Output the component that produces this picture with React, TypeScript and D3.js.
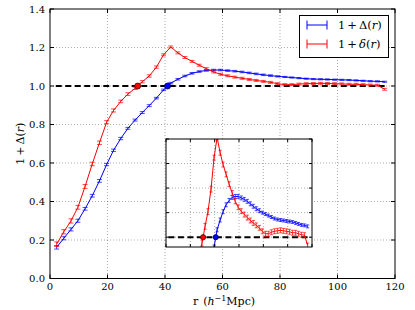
import React from "react";
import * as d3 from "d3";

const rValues = [2.3, 4.8, 7.3, 9.7, 12.2, 14.7, 17.2, 19.7, 22.1, 24.6, 27.1, 29.6, 32.1, 34.5, 37.0, 39.5, 42.0, 44.5, 46.9, 49.4, 51.9, 54.4, 56.9, 59.3, 61.8, 64.3, 66.8, 69.3, 71.7, 74.2, 76.7, 79.2, 81.7, 84.1, 86.6, 89.1, 91.6, 94.1, 96.5, 99.0, 101.5, 104.0, 106.5, 108.9, 111.4, 113.9, 116.4];

const bigDelta = [0.162, 0.209, 0.255, 0.300, 0.362, 0.430, 0.507, 0.592, 0.666, 0.727, 0.780, 0.823, 0.862, 0.898, 0.937, 0.980, 1.015, 1.035, 1.052, 1.066, 1.075, 1.081, 1.083, 1.083, 1.080, 1.077, 1.073, 1.068, 1.063, 1.058, 1.054, 1.050, 1.047, 1.044, 1.041, 1.038, 1.036, 1.035, 1.034, 1.033, 1.032, 1.031, 1.029, 1.027, 1.025, 1.024, 1.022];
const bigDeltaErr = [0.009, 0.008, 0.008, 0.008, 0.007, 0.007, 0.007, 0.006, 0.006, 0.006, 0.005, 0.005, 0.005, 0.005, 0.004, 0.004, 0.004, 0.004, 0.004, 0.004, 0.004, 0.004, 0.004, 0.004, 0.004, 0.004, 0.004, 0.004, 0.004, 0.004, 0.004, 0.003, 0.003, 0.003, 0.003, 0.003, 0.003, 0.003, 0.003, 0.003, 0.003, 0.003, 0.003, 0.003, 0.003, 0.003, 0.003];

const smallDelta = [0.178, 0.243, 0.299, 0.370, 0.478, 0.595, 0.705, 0.812, 0.873, 0.920, 0.958, 0.988, 1.022, 1.052, 1.098, 1.162, 1.203, 1.172, 1.148, 1.128, 1.108, 1.090, 1.073, 1.061, 1.053, 1.046, 1.040, 1.034, 1.029, 1.024, 1.019, 1.012, 1.007, 1.007, 1.010, 1.012, 1.013, 1.014, 1.013, 1.012, 1.011, 1.009, 1.009, 1.007, 1.005, 1.004, 0.983];
const smallDeltaErr = [0.012, 0.011, 0.011, 0.010, 0.010, 0.009, 0.009, 0.008, 0.008, 0.007, 0.007, 0.006, 0.006, 0.006, 0.006, 0.005, 0.005, 0.005, 0.005, 0.005, 0.005, 0.005, 0.005, 0.005, 0.005, 0.005, 0.005, 0.005, 0.005, 0.005, 0.005, 0.005, 0.005, 0.005, 0.005, 0.005, 0.005, 0.005, 0.005, 0.005, 0.005, 0.005, 0.005, 0.005, 0.005, 0.005, 0.005];

const crossings = [
  { r: 30.5, v: 1.0, color: "#ff0000", edge: "#550000" },
  { r: 40.9, v: 1.0, color: "#0000ff", edge: "#000055" },
];

const xTicks = [0, 20, 40, 60, 80, 100, 120];
const yTicks = [0.0, 0.2, 0.4, 0.6, 0.8, 1.0, 1.2, 1.4];
const insetYTicks = [1.0, 1.05, 1.1, 1.15, 1.2];
const dashRange = [2.0, 116.4];

const series = [
  { name: "Delta", values: bigDelta, errs: bigDeltaErr, color: "#0000ff" },
  { name: "delta", values: smallDelta, errs: smallDeltaErr, color: "#ff0000" },
];

const FONT = "DejaVu Serif";

function Plot({ x, y, cap, clipId, dotR }: any) {
  const line = d3
    .line<number>()
    .x((_, i) => x(rValues[i]))
    .y((d) => y(d));
  return (
    <g clipPath={`url(#${clipId})`}>
      <line
        x1={x(dashRange[0])}
        x2={x(dashRange[1])}
        y1={y(1)}
        y2={y(1)}
        stroke="#000"
        strokeWidth={2}
        strokeDasharray="6,3.5"
      />
      {series.map((s) => (
        <g key={s.name}>
          <path d={line(s.values) || ""} fill="none" stroke={s.color} strokeWidth={1} />
          {s.values.map((v, i) => {
            const cx = x(rValues[i]);
            const y1 = y(v - s.errs[i]);
            const y2 = y(v + s.errs[i]);
            return (
              <g key={i} stroke={s.color} strokeWidth={1} strokeOpacity={0.7}>
                <line x1={cx} x2={cx} y1={y1} y2={y2} />
                <line x1={cx - cap} x2={cx + cap} y1={y1} y2={y1} />
                <line x1={cx - cap} x2={cx + cap} y1={y2} y2={y2} />
              </g>
            );
          })}
        </g>
      ))}
      {crossings.map((c, i) => (
        <circle key={i} cx={x(c.r)} cy={y(c.v)} r={dotR} fill={c.color} stroke={c.edge} strokeWidth={0.8} />
      ))}
    </g>
  );
}

function MathLabel({ sym }: { sym: string }) {
  return (
    <>
      <tspan>1</tspan>
      <tspan dx={2}>+</tspan>
      <tspan dx={2}>{sym === "D" ? "Δ" : <tspan fontStyle="italic">δ</tspan>}</tspan>
      <tspan>(</tspan>
      <tspan fontStyle="italic">r</tspan>
      <tspan>)</tspan>
    </>
  );
}

export default function App() {
  const W = 415;
  const H = 310;
  const m = { left: 50, right: 395, top: 9, bottom: 278.5 };
  const x = d3.scaleLinear().domain([0, 120]).range([m.left, m.right]);
  const y = d3.scaleLinear().domain([0, 1.4]).range([m.bottom, m.top]);

  const ins = { left: 166, right: 312, top: 139, bottom: 247 };
  const xi = d3.scaleLinear().domain([0, 120]).range([ins.left, ins.right]);
  const yi = d3.scaleLinear().domain([0.98, 1.2]).range([ins.bottom, ins.top]);

  const gridStyle = { stroke: "#000", strokeOpacity: 0.55, strokeWidth: 0.6, strokeDasharray: "1,2" };

  const leg = { x: 299.5, y: 15.5, w: 89, h: 42 };

  return (
    <svg
      width={W}
      height={H}
      style={{ position: "absolute", left: 0, top: 0, background: "#fff" }}
      fontFamily={FONT}
    >
      <defs>
        <clipPath id="mainClip">
          <rect x={m.left} y={m.top} width={m.right - m.left} height={m.bottom - m.top} />
        </clipPath>
        <clipPath id="insetClip">
          <rect x={ins.left} y={ins.top} width={ins.right - ins.left} height={ins.bottom - ins.top} />
        </clipPath>
      </defs>
      <rect x={0} y={0} width={W} height={H} fill="#fff" />

      {/* main grid */}
      {xTicks.slice(1, -1).map((t) => (
        <line key={"gx" + t} x1={x(t)} x2={x(t)} y1={m.top} y2={m.bottom} {...gridStyle} />
      ))}
      {yTicks.slice(1, -1).map((t) => (
        <line key={"gy" + t} x1={m.left} x2={m.right} y1={y(t)} y2={y(t)} {...gridStyle} />
      ))}

      <Plot x={x} y={y} cap={2.5} clipId="mainClip" dotR={3} />

      {/* main frame */}
      <rect x={m.left} y={m.top} width={m.right - m.left} height={m.bottom - m.top} fill="none" stroke="#000" strokeWidth={1} />
      {xTicks.map((t) => (
        <g key={"tx" + t}>
          <line x1={x(t)} x2={x(t)} y1={m.bottom} y2={m.bottom - 4} stroke="#000" />
          <line x1={x(t)} x2={x(t)} y1={m.top} y2={m.top + 4} stroke="#000" />
          <text x={x(t)} y={290} fontSize={10} textAnchor="middle">
            {t}
          </text>
        </g>
      ))}
      {yTicks.map((t) => (
        <g key={"ty" + t}>
          <line x1={m.left} x2={m.left + 4} y1={y(t)} y2={y(t)} stroke="#000" />
          <line x1={m.right} x2={m.right - 4} y1={y(t)} y2={y(t)} stroke="#000" />
          <text x={45} y={y(t)} dy="0.35em" fontSize={10} textAnchor="end">
            {t.toFixed(1)}
          </text>
        </g>
      ))}

      {/* axis labels */}
      <text x={224} y={305} fontSize={11} textAnchor="middle">
        <tspan>r</tspan>
        <tspan dx={5}>(</tspan>
        <tspan fontStyle="italic">h</tspan>
        <tspan fontSize={8} dy={-4}>−1</tspan>
        <tspan dy={4}>Mpc)</tspan>
      </text>
      <text transform={`translate(20,${(m.top + m.bottom) / 2}) rotate(-90)`} fontSize={11} textAnchor="middle" dy="0.35em">
        <MathLabel sym="D" />
      </text>

      {/* legend */}
      <rect x={leg.x} y={leg.y} width={leg.w} height={leg.h} fill="#fff" stroke="#000" strokeWidth={1} />
      {series.map((s, i) => {
        const cy = 25 + i * 19;
        return (
          <g key={"leg" + i}>
            <g stroke={s.color} strokeWidth={1}>
              <line x1={307} x2={327} y1={cy} y2={cy} />
              <line x1={307} x2={307} y1={cy - 4.5} y2={cy + 4.5} />
              <line x1={327} x2={327} y1={cy - 4.5} y2={cy + 4.5} />
            </g>
            <text x={338} y={cy} dy="0.35em" fontSize={11.5}>
              <MathLabel sym={i === 0 ? "D" : "d"} />
            </text>
          </g>
        );
      })}

      {/* inset */}
      <rect x={ins.left} y={ins.top} width={ins.right - ins.left} height={ins.bottom - ins.top} fill="#fff" />
      {xTicks.slice(1, -1).map((t) => (
        <line key={"igx" + t} x1={xi(t)} x2={xi(t)} y1={ins.top} y2={ins.bottom} {...gridStyle} />
      ))}
      {insetYTicks.slice(0, -1).map((t) => (
        <line key={"igy" + t} x1={ins.left} x2={ins.right} y1={yi(t)} y2={yi(t)} {...gridStyle} />
      ))}
      <Plot x={xi} y={yi} cap={1.6} clipId="insetClip" dotR={2.6} />
      <rect x={ins.left} y={ins.top} width={ins.right - ins.left} height={ins.bottom - ins.top} fill="none" stroke="#000" strokeWidth={1} />
      {xTicks.map((t) => (
        <g key={"itx" + t} stroke="#000">
          <line x1={xi(t)} x2={xi(t)} y1={ins.bottom} y2={ins.bottom - 3} />
          <line x1={xi(t)} x2={xi(t)} y1={ins.top} y2={ins.top + 3} />
        </g>
      ))}
      {insetYTicks.map((t) => (
        <g key={"ity" + t} stroke="#000">
          <line x1={ins.left} x2={ins.left + 3} y1={yi(t)} y2={yi(t)} />
          <line x1={ins.right} x2={ins.right - 3} y1={yi(t)} y2={yi(t)} />
        </g>
      ))}
    </svg>
  );
}
